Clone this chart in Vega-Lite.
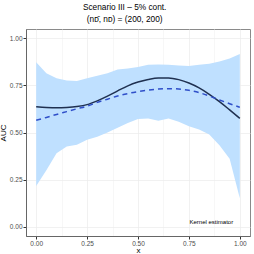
{
  "$schema": "https://vega.github.io/schema/vega-lite/v6.json",
  "width": 224,
  "height": 207,
  "autosize": {"type": "none"},
  "padding": {"left": 26, "top": 29, "right": 4, "bottom": 18},
  "background": "white",
  "title": {
    "text": "Scenario III – 5% cont.",
    "subtitle": "(nᴅ̄, nᴅ) = (200, 200)",
    "anchor": "middle",
    "frame": "bounds",
    "font": "Liberation Sans",
    "fontSize": 8.3,
    "fontWeight": "normal",
    "color": "#000000",
    "subtitleFont": "Liberation Sans",
    "subtitleFontSize": 8.3,
    "subtitleColor": "#000000",
    "subtitlePadding": 3,
    "offset": 6
  },
  "config": {
    "view": {"stroke": "#8a8a8a", "strokeWidth": 1},
    "axis": {
      "labelFont": "Liberation Sans",
      "labelFontSize": 6.5,
      "labelColor": "#4d4d4d",
      "titleFont": "Liberation Sans",
      "titleFontSize": 8,
      "titleFontWeight": "normal",
      "titleColor": "#000000",
      "domainColor": "#666666",
      "tickSize": 3,
      "labelPadding": 1,
      "gridWidth": 0.7
    }
  },
  "data": {
    "values": [
      {"x": 0.00, "lo": 0.216, "hi": 0.873, "kernel": 0.637, "other": 0.565},
      {"x": 0.05, "lo": 0.300, "hi": 0.815, "kernel": 0.633, "other": 0.580},
      {"x": 0.10, "lo": 0.390, "hi": 0.788, "kernel": 0.631, "other": 0.596},
      {"x": 0.15, "lo": 0.425, "hi": 0.776, "kernel": 0.633, "other": 0.611},
      {"x": 0.20, "lo": 0.435, "hi": 0.774, "kernel": 0.638, "other": 0.626},
      {"x": 0.25, "lo": 0.462, "hi": 0.788, "kernel": 0.648, "other": 0.640},
      {"x": 0.30, "lo": 0.478, "hi": 0.802, "kernel": 0.668, "other": 0.660},
      {"x": 0.35, "lo": 0.500, "hi": 0.815, "kernel": 0.693, "other": 0.677},
      {"x": 0.40, "lo": 0.525, "hi": 0.835, "kernel": 0.721, "other": 0.694},
      {"x": 0.45, "lo": 0.550, "hi": 0.840, "kernel": 0.748, "other": 0.707},
      {"x": 0.50, "lo": 0.572, "hi": 0.848, "kernel": 0.768, "other": 0.717},
      {"x": 0.55, "lo": 0.575, "hi": 0.860, "kernel": 0.782, "other": 0.725},
      {"x": 0.60, "lo": 0.563, "hi": 0.862, "kernel": 0.790, "other": 0.731},
      {"x": 0.65, "lo": 0.575, "hi": 0.860, "kernel": 0.790, "other": 0.733},
      {"x": 0.70, "lo": 0.557, "hi": 0.856, "kernel": 0.781, "other": 0.731},
      {"x": 0.75, "lo": 0.533, "hi": 0.853, "kernel": 0.763, "other": 0.724},
      {"x": 0.80, "lo": 0.516, "hi": 0.860, "kernel": 0.737, "other": 0.712},
      {"x": 0.85, "lo": 0.490, "hi": 0.866, "kernel": 0.703, "other": 0.694},
      {"x": 0.90, "lo": 0.432, "hi": 0.877, "kernel": 0.664, "other": 0.673},
      {"x": 0.95, "lo": 0.360, "hi": 0.893, "kernel": 0.620, "other": 0.653},
      {"x": 1.00, "lo": 0.150, "hi": 0.917, "kernel": 0.575, "other": 0.634}
    ]
  },
  "encoding": {
    "x": {
      "field": "x", "type": "quantitative",
      "scale": {"domain": [-0.05, 1.05], "nice": false, "zero": false},
      "axis": {
        "title": "x",
        "titlePadding": 0,
        "values": [0, 0.125, 0.25, 0.375, 0.5, 0.625, 0.75, 0.875, 1],
        "labelExpr": "datum.value % 0.25 == 0 ? format(datum.value, '.2f') : ''",
        "gridColor": {"condition": {"test": "datum.value % 0.25 == 0", "value": "#ebebeb"}, "value": "#f4f4f4"},
        "tickColor": {"condition": {"test": "datum.value % 0.25 == 0", "value": "#333333"}, "value": "transparent"}
      }
    }
  },
  "layer": [
    {
      "mark": {"type": "area", "color": "#bfe0ff", "opacity": 1},
      "encoding": {
        "y": {
          "field": "lo", "type": "quantitative",
          "scale": {"domain": [-0.05, 1.05], "nice": false, "zero": false},
          "axis": {
            "title": "AUC",
            "titlePadding": 2,
            "values": [0, 0.125, 0.25, 0.375, 0.5, 0.625, 0.75, 0.875, 1],
            "labelExpr": "datum.value % 0.25 == 0 ? format(datum.value, '.2f') : ''",
            "gridColor": {"condition": {"test": "datum.value % 0.25 == 0", "value": "#ebebeb"}, "value": "#f4f4f4"},
            "tickColor": {"condition": {"test": "datum.value % 0.25 == 0", "value": "#333333"}, "value": "transparent"}
          }
        },
        "y2": {"field": "hi"}
      }
    },
    {
      "mark": {"type": "line", "color": "#1f3050", "strokeWidth": 1.5, "interpolate": "monotone"},
      "encoding": {"y": {"field": "kernel", "type": "quantitative"}}
    },
    {
      "mark": {"type": "line", "color": "#2f4fc9", "strokeWidth": 1.5, "strokeDash": [5, 4], "interpolate": "monotone"},
      "encoding": {"y": {"field": "other", "type": "quantitative"}}
    },
    {
      "data": {"values": [{"x": 0.86, "y": 0.022, "label": "Kernel estimator"}]},
      "mark": {"type": "text", "font": "Liberation Sans", "fontSize": 6, "color": "#000000", "baseline": "middle", "align": "center"},
      "encoding": {
        "y": {"field": "y", "type": "quantitative"},
        "text": {"field": "label"}
      }
    }
  ]
}
